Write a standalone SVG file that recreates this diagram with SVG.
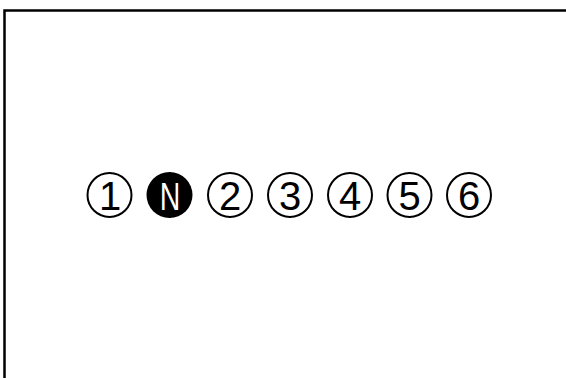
<svg xmlns="http://www.w3.org/2000/svg" width="566" height="378" viewBox="0 0 566 378">
<style>
.ring{fill:#fff;stroke:#000;stroke-width:2}
.num{font-family:"Liberation Sans",Arial,sans-serif;font-size:40px;fill:#000;text-anchor:middle}
.neg{fill:#000}
.negt{font-family:"Liberation Sans",Arial,sans-serif;font-size:38px;fill:#fff;text-anchor:middle}
</style>
<rect width="566" height="378" fill="#fff"/>
<polyline points="4.5,378 4.5,10.5 566,10.5" fill="none" stroke="#000" stroke-width="2.5"/>
<g id="n1"><circle class="ring" cx="109.5" cy="195" r="22"/><text class="num" x="110" y="210">1</text></g>
<g id="nN"><circle class="neg" cx="169.5" cy="195" r="23"/><text class="negt" transform="translate(170,210) scale(0.75,1)">N</text></g>
<g id="n2"><circle class="ring" cx="230" cy="195" r="22"/><text class="num" x="230" y="210">2</text></g>
<g id="n3"><circle class="ring" cx="290" cy="195" r="22"/><text class="num" x="290" y="210">3</text></g>
<g id="n4"><circle class="ring" cx="350" cy="195" r="22"/><text class="num" x="350" y="210">4</text></g>
<g id="n5"><circle class="ring" cx="409.5" cy="195" r="22"/><text class="num" x="409.5" y="210">5</text></g>
<g id="n6"><circle class="ring" cx="469" cy="195" r="22"/><text class="num" x="469" y="210">6</text></g>
<g id="connectors"></g>
</svg>
